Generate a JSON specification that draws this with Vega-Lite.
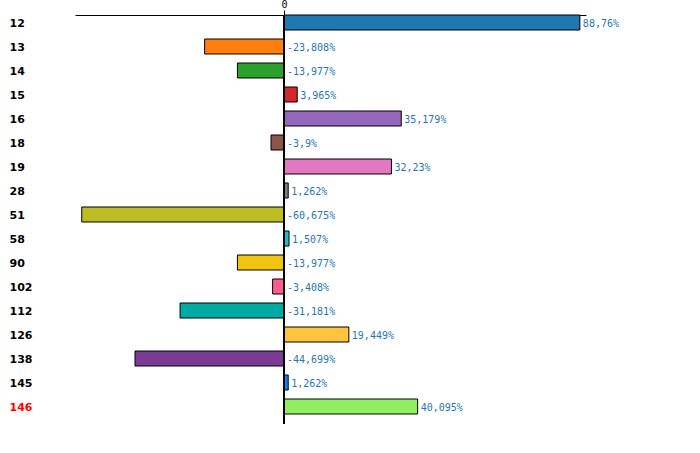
{
  "$schema": "https://vega.github.io/schema/vega-lite/v6.json",
  "autosize": {"type": "none"},
  "padding": {"left": 75, "top": 15, "right": 114, "bottom": 29},
  "width": 511,
  "height": 409,
  "background": "white",
  "config": {"view": {"stroke": null}},
  "data": {
    "values": [
      {"cat": "12", "value": 88.76, "label": "88,76%"},
      {"cat": "13", "value": -23.808, "label": "-23,808%"},
      {"cat": "14", "value": -13.977, "label": "-13,977%"},
      {"cat": "15", "value": 3.965, "label": "3,965%"},
      {"cat": "16", "value": 35.179, "label": "35,179%"},
      {"cat": "18", "value": -3.9, "label": "-3,9%"},
      {"cat": "19", "value": 32.23, "label": "32,23%"},
      {"cat": "28", "value": 1.262, "label": "1,262%"},
      {"cat": "51", "value": -60.675, "label": "-60,675%"},
      {"cat": "58", "value": 1.507, "label": "1,507%"},
      {"cat": "90", "value": -13.977, "label": "-13,977%"},
      {"cat": "102", "value": -3.408, "label": "-3,408%"},
      {"cat": "112", "value": -31.181, "label": "-31,181%"},
      {"cat": "126", "value": 19.449, "label": "19,449%"},
      {"cat": "138", "value": -44.699, "label": "-44,699%"},
      {"cat": "145", "value": 1.262, "label": "1,262%"},
      {"cat": "146", "value": 40.095, "label": "40,095%"}
    ]
  },
  "layer": [
    {
      "mark": {"type": "bar", "stroke": "#000000", "strokeWidth": 1},
      "encoding": {
        "y": {
          "field": "cat",
          "type": "nominal",
          "sort": null,
          "scale": {"paddingInner": 0.375, "paddingOuter": 0.2083, "align": 0},
          "axis": {
            "title": null,
            "ticks": false,
            "domain": false,
            "labelAlign": "left",
            "labelPadding": 66,
            "labelOffset": 1,
            "labelFont": "DejaVu Sans",
            "labelFontWeight": "bold",
            "labelFontSize": 11,
            "labelColor": {"condition": {"test": "datum.value == '146'", "value": "#ff0000"}, "value": "#000000"}
          }
        },
        "x": {
          "field": "value",
          "type": "quantitative",
          "scale": {"domain": [-62.7, 90.6], "nice": false, "zero": false},
          "axis": {
            "orient": "top",
            "title": null,
            "values": [0],
            "grid": false,
            "domainColor": "#000000",
            "tickColor": "#000000",
            "tickSize": 5,
            "labelFont": "DejaVu Sans Mono",
            "labelFontSize": 10,
            "labelColor": "#000000",
            "labelPadding": 1
          }
        },
        "color": {
          "field": "cat",
          "type": "nominal",
          "legend": null,
          "scale": {
            "domain": ["12","13","14","15","16","18","19","28","51","58","90","102","112","126","138","145","146"],
            "range": ["#1f77b4","#ff7f0e","#2ca02c","#d62728","#9467bd","#8c564b","#e377c2","#7f7f7f","#bcbd22","#17becf","#f1c40f","#ff5c8d","#00aba5","#ffc43d","#7b3b94","#0a84ff","#90ee60"]
          }
        }
      }
    },
    {
      "transform": [{"filter": "datum.value >= 0"}],
      "mark": {"type": "text", "align": "left", "baseline": "middle", "dx": 3, "dy": 1, "font": "DejaVu Sans Mono", "fontSize": 10, "color": "#1f77b4"},
      "encoding": {
        "y": {"field": "cat", "type": "nominal", "sort": null},
        "x": {"field": "value", "type": "quantitative"},
        "text": {"field": "label"}
      }
    },
    {
      "transform": [{"filter": "datum.value < 0"}],
      "mark": {"type": "text", "align": "left", "baseline": "middle", "dx": 3, "dy": 1, "font": "DejaVu Sans Mono", "fontSize": 10, "color": "#1f77b4"},
      "encoding": {
        "y": {"field": "cat", "type": "nominal", "sort": null},
        "x": {"datum": 0, "type": "quantitative"},
        "text": {"field": "label"}
      }
    },
    {
      "mark": {"type": "rule", "color": "#000000", "strokeWidth": 2},
      "encoding": {
        "x": {"datum": 0, "type": "quantitative"}
      }
    }
  ]
}
